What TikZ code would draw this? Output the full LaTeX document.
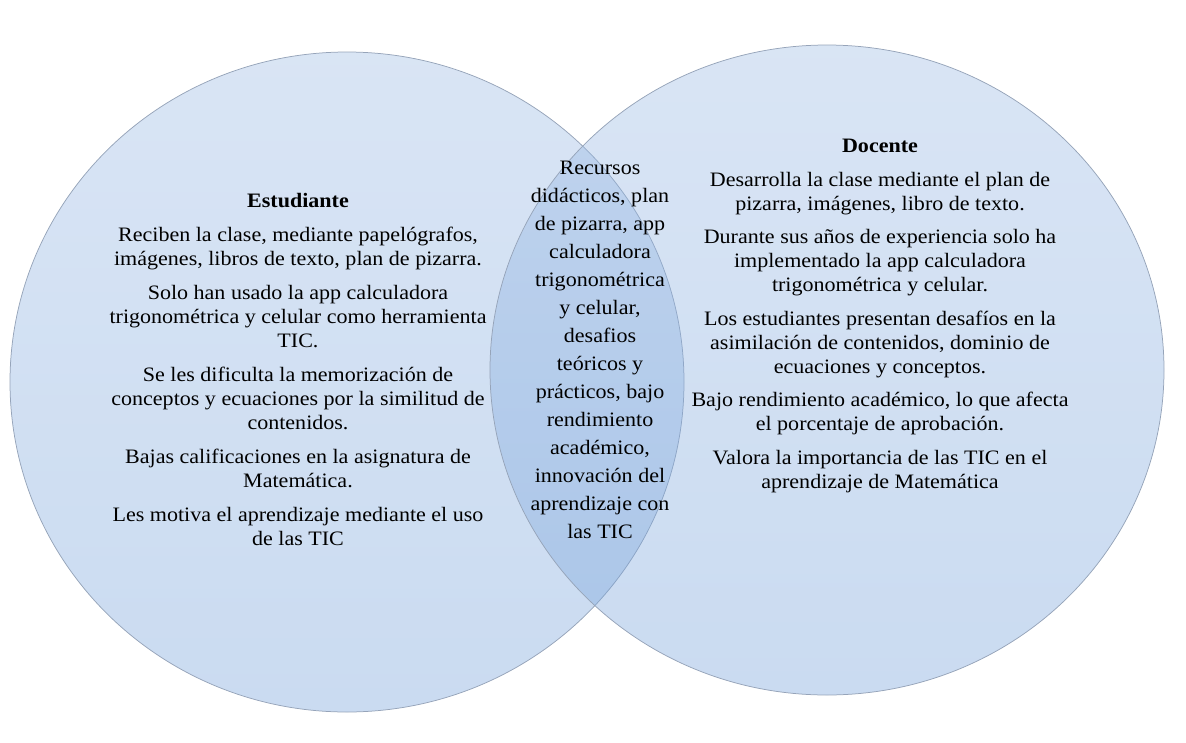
\documentclass[tikz,border=0pt]{standalone}
\usepackage{fontspec}
\setmainfont[FakeStretch=1.075]{Liberation Serif}
\usepackage{tikz}
\usetikzlibrary{calc}
\definecolor{venntop}{RGB}{155,186,227}
\definecolor{vennbot}{RGB}{115,160,218}
\definecolor{vennline}{RGB}{150,164,185}
\tikzset{
	venn/.style={top color=venntop,bottom color=vennbot,fill opacity=0.38,draw=vennline,draw opacity=1,line width=0.75pt},
	txt/.style={align=center,inner sep=0pt,anchor=base,font=\fontsize{20.5}{24}\selectfont}
}

\begin{document}
\begin{tikzpicture}[line cap=round,line join=round,x=1pt,y=-1pt]
	\useasboundingbox (0,0) rectangle (1186,742);
	\draw[venn] (347,382) ellipse [x radius=337pt,y radius=330pt];
	\draw[venn] (827,370) ellipse [x radius=337pt,y radius=325pt];
	\node[txt] (estudiante) at (298,545) {\textbf{Estudiante}\\[10pt]
		Reciben la clase, mediante papelógrafos,\\ imágenes, libros de texto, plan de pizarra.\\[10pt]
		Solo han usado la app calculadora\\ trigonométrica y celular como herramienta\\ TIC.\\[10pt]
		Se les dificulta la memorización de\\ conceptos y ecuaciones por la similitud de\\ contenidos.\\[10pt]
		Bajas calificaciones en la asignatura de\\ Matemática.\\[10pt]
		Les motiva el aprendizaje mediante el uso\\ de las TIC};
	\node[txt] (docente) at (880,488) {\textbf{Docente}\\[9.5pt]
		Desarrolla la clase mediante el plan de\\ pizarra, imágenes, libro de texto.\\[9.5pt]
		Durante sus años de experiencia solo ha\\ implementado la app calculadora\\ trigonométrica y celular.\\[9.5pt]
		Los estudiantes presentan desafíos en la\\ asimilación de contenidos, dominio de\\ ecuaciones y conceptos.\\[9.5pt]
		Bajo rendimiento académico, lo que afecta\\ el porcentaje de aprobación.\\[9.5pt]
		Valora la importancia de las TIC en el\\ aprendizaje de Matemática};
	\node[txt,font=\fontsize{20.5}{28}\selectfont] (comun) at (600,538) {Recursos\\ didácticos, plan\\ de pizarra, app\\ calculadora\\ trigonométrica\\ y celular,\\ desafios\\ teóricos y\\ prácticos, bajo\\ rendimiento\\ académico,\\ innovación del\\ aprendizaje con\\ las TIC};
\end{tikzpicture}
\end{document}
